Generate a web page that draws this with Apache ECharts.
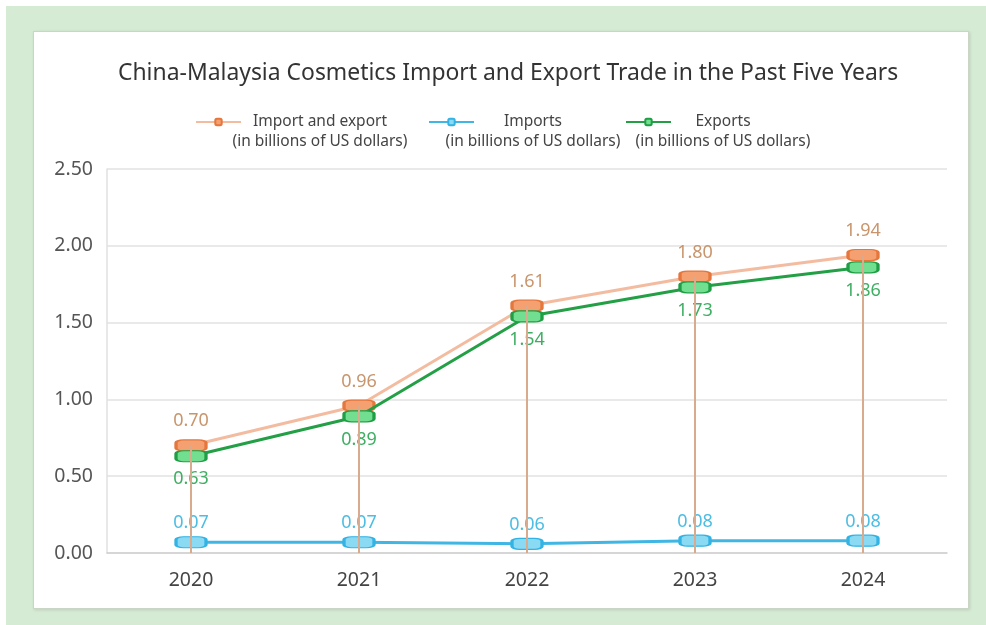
<!DOCTYPE html>
<html>
<head>
<meta charset="utf-8">
<script src="https://cdn.jsdelivr.net/npm/echarts@6/dist/echarts.min.js"></script>
<style>
  html, body { margin: 0; padding: 0; width: 986px; height: 625px; background: #ffffff; overflow: hidden; }
  #frame { position: absolute; left: 6px; top: 6px; width: 980px; height: 619px; background: #d6ebd3; }
  #panel { position: absolute; left: 33px; top: 31px; width: 934px; height: 576px; background: #ffffff;
           border: 1px solid #c9d6c6; box-shadow: 1px 1px 3px rgba(0,0,0,0.12); }
  #chart { position: absolute; left: 0; top: 0; width: 986px; height: 625px; }
</style>
</head>
<body>
<div id="frame"></div>
<div id="panel"></div>
<div id="chart"></div>
<script>
const titleText = 'China-Malaysia Cosmetics Import and Export Trade in the Past Five Years';
const years = ['2020', '2021', '2022', '2023', '2024'];
const seriesNames = ['Import and export', 'Imports', 'Exports'];
const unitLabel = '(in billions of US dollars)';
const importExport = [0.70, 0.96, 1.61, 1.80, 1.94];
const imports = [0.07, 0.07, 0.06, 0.08, 0.08];
const exportsVals = [0.63, 0.89, 1.54, 1.73, 1.86];
const yTicks = { min: 0, max: 2.5, interval: 0.5 };

const chart = echarts.init(document.getElementById('chart'), null, { renderer: 'canvas' });
const FONT = '"Noto Sans", "Open Sans", sans-serif';

function makeLegend(name, left, textWidth) {
  return {
    top: 92,
    left: left,
    padding: 0,
    itemWidth: 45,
    itemHeight: 8,
    itemGap: 0,
    data: [name],
    textStyle: {
      width: textWidth,
      lineHeight: 20,
      fontFamily: FONT,
      fontSize: 15.5,
      color: '#444',
      rich: {
        a: { fontSize: 15.5, color: '#444', align: 'center', lineHeight: 20, fontFamily: FONT },
        b: { fontSize: 15.5, color: '#444', align: 'center', lineHeight: 20, fontFamily: FONT }
      }
    },
    formatter: function (n) { return '\n{a|' + n + '}\n{b|' + unitLabel + '}'; }
  };
}

const dataLabelFmt = function (p) { return p.value.toFixed(2); };

const option = {
  backgroundColor: 'transparent',
  animation: false,
  title: {
    text: titleText,
    left: 113,
    top: 57,
    textStyle: { fontFamily: FONT, fontSize: 22.9, fontWeight: 'normal', color: '#333' }
  },
  legend: [
    makeLegend(seriesNames[0], 195, 148),
    makeLegend(seriesNames[1], 428, 108),
    makeLegend(seriesNames[2], 625, 94)
  ],
  grid: { left: 107, right: 39, top: 169, bottom: 72, containLabel: false },
  xAxis: {
    type: 'category',
    data: years,
    boundaryGap: true,
    axisLine: { show: true, lineStyle: { color: '#d0d0d0', width: 1.5 } },
    axisTick: { show: false },
    axisLabel: { fontFamily: FONT, fontSize: 19.5, color: '#444', margin: 17 }
  },
  yAxis: {
    type: 'value',
    min: yTicks.min,
    max: yTicks.max,
    interval: yTicks.interval,
    axisLine: { show: true, lineStyle: { color: '#e0e0e0', width: 1.5 } },
    axisTick: { show: false },
    splitLine: { show: true, lineStyle: { color: '#e2e2e2', width: 1.5 } },
    axisLabel: { fontFamily: FONT, fontSize: 19.5, color: '#555', margin: 14,
                 formatter: function (v) { return v.toFixed(2); } }
  },
  series: [
    {
      name: 'drop',
      type: 'bar',
      data: importExport,
      barWidth: 2,
      itemStyle: { color: '#d8aa8e' },
      z: 5,
      silent: true,
      legendHoverLink: false
    },
    {
      name: seriesNames[0],
      type: 'line',
      data: importExport,
      symbol: 'roundRect',
      symbolSize: [30, 11],
      lineStyle: { color: '#f3bca0', width: 3 },
      itemStyle: { color: '#f4a070', borderColor: '#e5763c', borderWidth: 2 },
      label: { show: true, position: 'top', distance: 9, fontFamily: FONT, fontSize: 18, color: '#c9956c',
               formatter: dataLabelFmt },
      z: 3
    },
    {
      name: seriesNames[1],
      type: 'line',
      data: imports,
      symbol: 'roundRect',
      symbolSize: [30, 11],
      lineStyle: { color: '#3fb6e3', width: 3 },
      itemStyle: { color: '#8bdaf4', borderColor: '#33b3e3', borderWidth: 2 },
      label: { show: true, position: 'top', distance: 4, fontFamily: FONT, fontSize: 18, color: '#4cbde3',
               formatter: dataLabelFmt },
      z: 3
    },
    {
      name: seriesNames[2],
      type: 'line',
      data: exportsVals,
      symbol: 'roundRect',
      symbolSize: [30, 11],
      lineStyle: { color: '#23a046', width: 3 },
      itemStyle: { color: '#72df90', borderColor: '#1f9e45', borderWidth: 2 },
      label: { show: true, position: 'bottom', distance: 8, fontFamily: FONT, fontSize: 18, color: '#3fae63',
               formatter: dataLabelFmt },
      z: 4
    }
  ]
};
chart.setOption(option);
</script>
</body>
</html>
